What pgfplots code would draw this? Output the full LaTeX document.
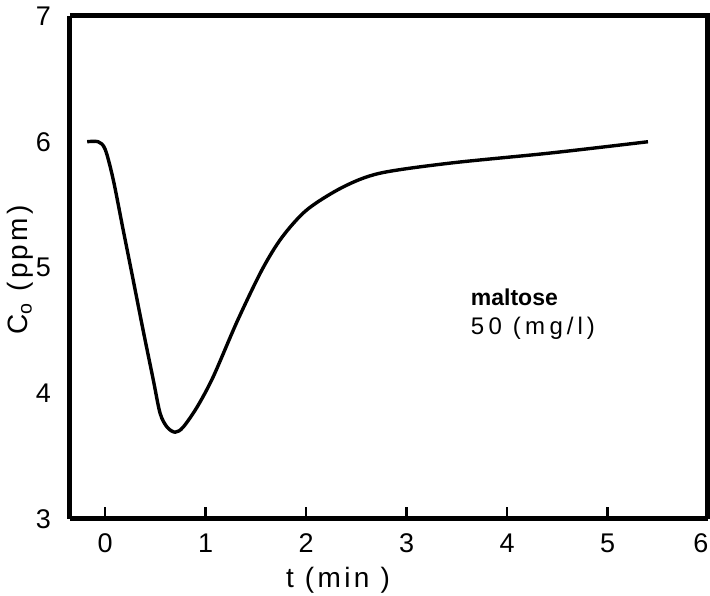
\documentclass[border=0pt]{standalone}
\usepackage{fontspec}
\setmainfont{Liberation Sans}
\newfontfamily\spacedfont[LetterSpace=12]{Liberation Sans}
\newfontfamily\widefont[LetterSpace=18]{Liberation Sans}
\usepackage{pgfplots}
\pgfplotsset{compat=1.18}
\usetikzlibrary{calc}

\begin{document}
\begin{tikzpicture}
\begin{axis}[
  scale only axis,
  width=319pt, height=251.5pt,
  xmin=-0.35, xmax=6, ymin=3, ymax=7,
  axis line style={line width=2.5pt},
  axis x line*=bottom, axis y line*=left,
  xtick={0,1,2,3,4,5},
  extra x ticks={6},
  extra x tick style={tick style={draw=none}, xticklabel style={xshift=-3.5pt}},
  ytick={3,4,5,6,7},
  major tick length=6pt,
  xtick style={line width=1.2pt, black},
  ytick style={draw=none},
  tick align=inside,
  /pgf/number format/assume math mode=true,
  xticklabel style={font=\fontsize{13.5}{15}\selectfont, yshift=-4pt},
  yticklabel style={font=\fontsize{13.5}{15}\selectfont, xshift=-6pt},
  xlabel={t (min )},
  xlabel style={font=\spacedfont\fontsize{14}{16}\selectfont, at={(rel axis cs:0.42,0)}, anchor=center, yshift=-30.5pt},
  ylabel={C$_{\mathrm{o}}$ (ppm)},
  ylabel style={font=\spacedfont\fontsize{14}{16}\selectfont, at={(rel axis cs:0,0.495)}, anchor=center, yshift=25pt},
  clip=false,
]
\coordinate (sw) at (rel axis cs:0,0);
\coordinate (ne) at (rel axis cs:1,1);
% upper and right frame lines
\draw[line width=2.5pt] (rel axis cs:0,1) -- (rel axis cs:1,1) -- (rel axis cs:1,0);
% dissolved oxygen response
\addplot[line width=1.7pt, smooth, tension=0.5] coordinates {
  (-0.179,6.00) (-0.070,6.00) (0.000,5.94) (0.080,5.70) (0.179,5.30)
  (0.279,4.90) (0.378,4.50) (0.478,4.11) (0.547,3.84) (0.617,3.73)
  (0.697,3.69) (0.776,3.73) (0.915,3.89) (1.075,4.13) (1.313,4.57)
  (1.560,4.98) (1.760,5.24) (2.010,5.46) (2.368,5.64) (2.736,5.75)
  (3.433,5.83) (4.428,5.91) (5.403,6.00)
};
\node[anchor=west, font=\bfseries\fontsize{11.5}{13}\selectfont] at (axis cs:3.57,4.76) {maltose};
\node[anchor=west, font=\widefont\fontsize{12}{14}\selectfont] at (axis cs:3.57,4.52) {50 (mg\,/\,l\,)};
\end{axis}
\pgfresetboundingbox
\path ($(sw)+(-35pt,-38.5pt)$) rectangle ($(ne)+(1pt,8pt)$);
\end{tikzpicture}
\end{document}
